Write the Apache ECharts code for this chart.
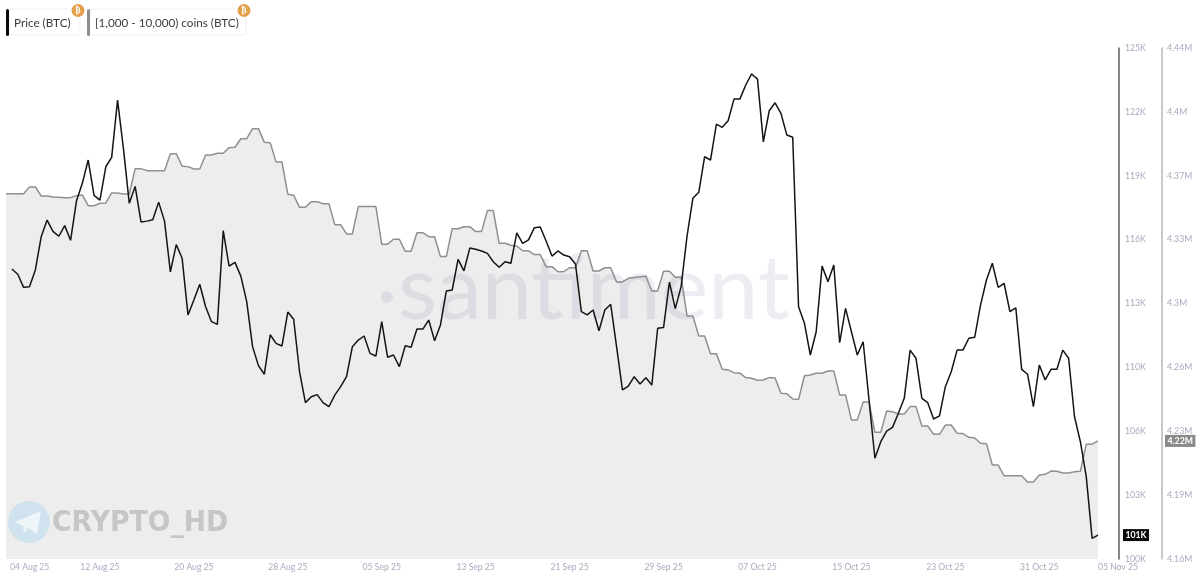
<!DOCTYPE html>
<html>
<head>
<meta charset="utf-8">
<style>html,body{margin:0;padding:0;background:#fff}#c{width:1200px;height:579px}</style>
<script src="https://cdn.jsdelivr.net/npm/echarts@6/dist/echarts.min.js"></script>
</head>
<body>
<div id="c"></div>
<script>
const priceSeriesName = 'Price (BTC)';
const holderSeriesName = '[1,000 - 10,000) coins (BTC)';

const priceK = [null,
114.19,113.93,113.29,113.32,114.14,115.77,116.58,116.03,115.79,116.31,
115.59,117.51,118.38,119.52,117.79,117.56,119.19,119.65,122.45,120.09,
117.40,118.23,116.49,116.53,116.60,117.46,116.53,114.05,115.38,114.71,
111.94,112.67,113.44,112.34,111.61,111.48,116.06,114.33,114.51,113.84,
112.59,110.39,109.46,109.04,110.97,110.55,110.42,112.08,111.73,109.16,
107.65,107.94,108.04,107.65,107.45,108.02,108.43,108.92,110.39,110.71,
110.91,110.06,109.93,111.61,109.87,109.98,109.41,110.43,110.36,111.25,
111.25,111.69,110.68,111.45,113.11,113.16,114.66,114.10,115.21,115.15,
115.07,114.95,114.54,114.27,114.54,114.47,115.96,115.44,115.61,116.21,
116.24,115.56,114.82,115.07,114.87,114.79,114.43,112.10,111.94,112.18,
111.17,112.18,112.46,110.39,108.27,108.46,108.92,108.56,108.87,108.51,
111.29,111.32,113.55,112.25,113.34,115.80,117.65,117.94,119.68,119.52,
121.28,121.12,121.44,122.50,122.50,123.19,123.73,123.48,120.41,121.93,
122.32,121.80,120.74,120.63,112.34,111.53,109.98,111.12,114.33,113.57,
114.38,110.58,112.26,111.12,109.98,110.63,107.78,104.93,105.74,106.26,
106.44,107.13,107.86,110.22,109.82,107.86,107.65,106.85,107.00,108.43,
109.16,110.22,110.22,110.80,110.85,112.43,113.65,114.47,113.29,113.49,
112.10,112.29,109.28,109.04,107.45,109.49,108.76,109.28,109.28,110.22,
109.82,106.96,105.74,104.03,101.01,101.17];

const holdersM = [
4.3602,4.3602,4.3602,4.3602,4.3639,4.3639,4.3589,4.3589,4.3584,4.3582,
4.3580,4.3580,4.3591,4.3595,4.3536,4.3536,4.3549,4.3551,4.3606,4.3606,
4.3600,4.3600,4.3739,4.3739,4.3728,4.3728,4.3728,4.3728,4.3821,4.3821,
4.3752,4.3750,4.3737,4.3737,4.3814,4.3814,4.3823,4.3823,4.3854,4.3856,
4.3903,4.3903,4.3958,4.3958,4.3883,4.3881,4.3776,4.3776,4.3599,4.3593,
4.3527,4.3527,4.3558,4.3558,4.3547,4.3547,4.3432,4.3432,4.3381,4.3381,
4.3531,4.3531,4.3531,4.3531,4.3325,4.3325,4.3352,4.3352,4.3286,4.3286,
4.3388,4.3388,4.3366,4.3366,4.3257,4.3257,4.3410,4.3410,4.3421,4.3421,
4.3394,4.3394,4.3509,4.3509,4.3330,4.3330,4.3319,4.3315,4.3289,4.3289,
4.3268,4.3268,4.3202,4.3202,4.3174,4.3174,4.3196,4.3196,4.3289,4.3289,
4.3178,4.3178,4.3196,4.3196,4.3118,4.3118,4.3138,4.3142,4.3147,4.3149,
4.3069,4.3069,4.3177,4.3177,4.3144,4.3144,4.2932,4.2932,4.2822,4.2822,
4.2725,4.2725,4.2640,4.2636,4.2621,4.2618,4.2594,4.2590,4.2579,4.2581,
4.2594,4.2592,4.2508,4.2506,4.2477,4.2475,4.2604,4.2608,4.2618,4.2618,
4.2630,4.2630,4.2499,4.2499,4.2362,4.2362,4.2460,4.2460,4.2294,4.2294,
4.2411,4.2407,4.2395,4.2395,4.2435,4.2435,4.2329,4.2329,4.2283,4.2283,
4.2334,4.2334,4.2289,4.2287,4.2267,4.2263,4.2234,4.2232,4.2115,4.2115,
4.2056,4.2056,4.2056,4.2056,4.2022,4.2022,4.2060,4.2064,4.2082,4.2081,
4.2071,4.2071,4.2078,4.2081,4.2229,4.2229,4.2247];

const priceTickValues = [100,103.125,106.25,109.375,112.5,115.625,118.75,121.875,125];
const priceTickLabels = ['100K','103K','106K','110K','113K','116K','119K','122K','125K'];
const holderTickValues = [4.16,4.195,4.23,4.265,4.3,4.335,4.37,4.405,4.44];
const holderTickLabels = ['4.16M','4.19M','4.23M','4.26M','4.3M','4.33M','4.37M','4.4M','4.44M'];
const dateTickIndexes = [0,16,32,48,64,80,96,112,128,144,160,176,186];
const priceEndLabel = '101K';
const holderEndLabel = '4.22M';

const months = ['Jan','Feb','Mar','Apr','May','Jun','Jul','Aug','Sep','Oct','Nov','Dec'];
const categories = holdersM.map((_, i) => {
  const d = new Date(Date.UTC(2025, 7, 4) + i * 43200000);
  return String(d.getUTCDate()).padStart(2, '0') + ' ' + months[d.getUTCMonth()] + ' 25';
});

const FONT = 'Lato, "Open Sans", sans-serif';
const labelColor = '#a9aabf';
const chart = echarts.init(document.getElementById('c'), null, {renderer: 'canvas'});

function chip(barX, w, color, text) {
  return [
    {type: 'rect', z: 5, shape: {x: barX + 3, y: 9, width: w, height: 26, r: 3},
      style: {fill: '#fff', stroke: '#f1f1f1', lineWidth: 1}},
    {type: 'rect', z: 6, shape: {x: barX, y: 9, width: 3, height: 27, r: 1.5}, style: {fill: color}},
    {type: 'text', z: 6, style: {x: barX + 8, y: 23, text, fill: '#3c3c3c',
      font: '11.7px ' + FONT, textVerticalAlign: 'middle'}},
    {type: 'circle', z: 7, shape: {cx: barX + w + 1, cy: 10.5, r: 6.5}, style: {fill: '#e5a04c'}},
    {type: 'text', z: 8, style: {x: barX + w + 1, y: 10.5, text: '\u20BF', fill: '#fff',
      font: 'bold 8px "DejaVu Sans"', textAlign: 'center', textVerticalAlign: 'middle'}}
  ];
}

chart.setOption({
  animation: false,
  backgroundColor: '#fff',
  textStyle: {fontFamily: FONT},
  grid: {left: 6, right: 102, top: 48, bottom: 20, containLabel: false},
  xAxis: {
    type: 'category', data: categories, boundaryGap: false,
    axisLine: {show: false}, axisTick: {show: false}, splitLine: {show: false},
    axisLabel: {
      color: labelColor, fontSize: 8.6, margin: 4, fontFamily: FONT,
      interval: (i) => dateTickIndexes.includes(i),
      showMinLabel: true, showMaxLabel: true,
      alignMinLabel: 'left', alignMaxLabel: 'left', hideOverlap: false,
      formatter: (v, i) => i === 0 ? '{first|' + v + '}' : v,
      rich: {first: {color: labelColor, fontSize: 8.6, fontFamily: FONT, padding: [0, 0, 0, 4]}}
    }
  },
  yAxis: [
    {type: 'value', position: 'right', offset: 21, min: 100, max: 125, scale: true,
      axisLine: {show: true, onZero: false, lineStyle: {color: '#5f5f5f', width: 1.5}},
      axisTick: {show: false}, splitLine: {show: false},
      axisLabel: {color: labelColor, fontSize: 8.7, margin: 6, fontFamily: FONT, padding: [2, 0, 0, 0],
        customValues: priceTickValues,
        formatter: (v) => priceTickLabels[priceTickValues.indexOf(v)]}},
    {type: 'value', position: 'right', offset: 64, min: 4.16, max: 4.44, scale: true,
      axisLine: {show: true, onZero: false, lineStyle: {color: '#b9b9b9', width: 1.5}},
      axisTick: {show: false}, splitLine: {show: false},
      axisLabel: {color: labelColor, fontSize: 8.7, margin: 5, fontFamily: FONT, padding: [2, 0, 0, 0],
        customValues: holderTickValues,
        formatter: (v) => holderTickLabels[holderTickValues.indexOf(v)]}}
  ],
  series: [
    {name: holderSeriesName, type: 'line', yAxisIndex: 1, data: holdersM, z: 3,
      symbol: 'none', smooth: false, clip: false,
      lineStyle: {color: '#8f8f8f', width: 1.5},
      areaStyle: {color: 'rgba(0,0,0,0.07)', origin: 'start', opacity: 1},
      endLabel: {show: true, formatter: () => holderEndLabel, offset: [59, 0], color: '#fff',
        fontSize: 8.7, fontWeight: 'bold', backgroundColor: '#8a8a8a', padding: [1.5, 2.5], fontFamily: FONT}},
    {name: priceSeriesName, type: 'line', yAxisIndex: 0, data: priceK, z: 4,
      symbol: 'none', smooth: false, clip: false, connectNulls: false,
      lineStyle: {color: '#141414', width: 1.5},
      endLabel: {show: true, formatter: () => priceEndLabel, offset: [17, 0], color: '#fff',
        fontSize: 8.7, fontWeight: 'bold', backgroundColor: '#0b0b0b', padding: [1.5, 2.5], fontFamily: FONT}}
  ],
  graphic: [
    {type: 'circle', z: 1, shape: {cx: 387, cy: 297, r: 6}, style: {fill: '#eceef4'}},
    {type: 'text', z: 1, style: {x: 398, y: 290, text: 'santiment', fill: '#eceef4',
      font: '400 90px Lato, "Open Sans", sans-serif', textVerticalAlign: 'middle'}},
    {type: 'circle', z: 9, shape: {cx: 29, cy: 522, r: 21}, style: {fill: '#cfe2ee'}},
    {type: 'polygon', z: 10, shape: {points: [[15,522],[41,511],[37,534],[28,528],[24,533],[23,526]]},
      style: {fill: '#eef5f9'}},
    {type: 'text', z: 9, x: 52, y: 523, scaleX: 0.92, style: {x: 0, y: 0, text: 'CRYPTO_HD', fill: '#c6c6c6',
      font: 'bold 29px "DejaVu Sans"', textVerticalAlign: 'middle'}},
    ...chip(6, 71, '#0a0a0a', priceSeriesName),
    ...chip(87, 156, '#8e8e8e', holderSeriesName)
  ]
});
</script>
</body>
</html>
